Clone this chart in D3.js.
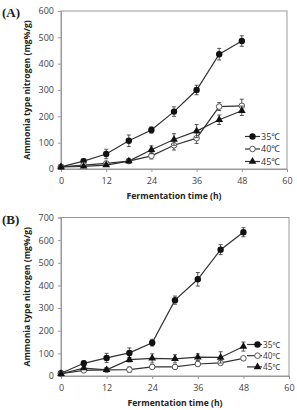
<!DOCTYPE html>
<html>
<head>
<meta charset="utf-8">
<script src="https://cdn.jsdelivr.net/npm/d3@7"></script>
<style>
  body { margin: 0; background: #fff; }
  text { font-family: "Open Sans", "Noto Sans", sans-serif; }
</style>
</head>
<body>
<div id="chart"></div>
<script>
// fermentation time (h)
const times = [0, 6, 12, 18, 24, 30, 36, 42, 48];
const xTicks = [0, 12, 24, 36, 48, 60];
const series = ["35℃", "40℃", "45℃"];

// panel A values and error bars
const a35 = [8, 30, 57, 107, 148, 218, 300, 436, 486];
const a35err = [4, 8, 18, 22, 12, 18, 18, 22, 20];
const a40 = [8, 15, 21, 30, 50, 90, 117, 237, 240];
const a40err = [3, 4, 6, 8, 12, 18, 20, 15, 25];
const a45 = [8, 10, 15, 30, 73, 112, 144, 187, 221];
const a45err = [3, 4, 5, 8, 15, 22, 25, 18, 18];
const aTicks = [0, 100, 200, 300, 400, 500, 600];

// panel B values and error bars
const b35 = [12, 56, 80, 102, 147, 335, 427, 558, 635];
const b35err = [4, 10, 20, 22, 15, 18, 30, 22, 20];
const b40 = [10, 25, 27, 28, 40, 40, 53, 58, 78];
const b40err = [3, 5, 5, 12, 8, 8, 10, 8, 8];
const b45 = [10, 35, 27, 72, 78, 76, 83, 82, 130];
const b45err = [3, 6, 5, 10, 20, 18, 15, 25, 20];
const bTicks = [0, 100, 200, 300, 400, 500, 600, 700];

const width = 297, height = 410;

let svg = d3.select("#chart")
  .append("svg")
  .attr("width", width)
  .attr("height", height);

const markers = ["filled", "open", "triangle"];

function drawMarker(g, type, x, y) {
  if (type === "filled") {
    g.append("circle").attr("cx", x).attr("cy", y).attr("r", 3.2).attr("fill", "#111");
  } else if (type === "open") {
    g.append("circle").attr("cx", x).attr("cy", y).attr("r", 2.8)
      .attr("fill", "#fff").attr("stroke", "#555").attr("stroke-width", 1);
  } else {
    g.append("path")
      .attr("d", d3.symbol().type(d3.symbolTriangle).size(26)())
      .attr("transform", `translate(${x},${y})`)
      .attr("fill", "#111");
  }
}

function panel(p) {
  let g = svg.append("g");

  let x = d3.scaleLinear().domain([0, 60]).range([p.left, p.right]);
  let y = d3.scaleLinear().domain([0, p.ymax]).range([p.bottom, p.top]);

  // plot frame
  g.append("rect")
    .attr("x", p.left).attr("y", p.top)
    .attr("width", p.right - p.left).attr("height", p.bottom - p.top)
    .attr("fill", "none").attr("stroke", "#999").attr("stroke-width", 1);

  // axes
  let yAxis = g.append("g")
    .attr("transform", `translate(${p.left},0)`)
    .call(d3.axisLeft(y).tickValues(p.ticks).tickSize(3).tickPadding(4));
  yAxis.selectAll("text").style("font-size", "9px").attr("fill", "#444");
  yAxis.selectAll("line, path").attr("stroke", "#999");

  let xAxis = g.append("g")
    .attr("transform", `translate(0,${p.bottom})`)
    .call(d3.axisBottom(x).tickValues(xTicks).tickSize(3).tickPadding(6));
  xAxis.selectAll("text").style("font-size", "9px").attr("fill", "#444");
  xAxis.selectAll("line, path").attr("stroke", "#999");

  // axis titles
  g.append("text")
    .attr("transform", `translate(${p.left - 31},${(p.top + p.bottom) / 2}) rotate(-90)`)
    .attr("text-anchor", "middle")
    .style("font-size", "8.6px")
    .style("font-weight", "bold")
    .attr("fill", "#222")
    .text("Ammonia type nitrogen (mg%/g)");

  g.append("text")
    .attr("x", (p.left + p.right) / 2)
    .attr("y", p.bottom + 30)
    .attr("text-anchor", "middle")
    .style("font-size", "8.6px")
    .style("font-weight", "bold")
    .attr("fill", "#222")
    .text("Fermentation time (h)");

  g.append("text")
    .attr("x", 2).attr("y", p.top + 6)
    .style("font-family", "'Liberation Serif', serif")
    .style("font-size", "13px")
    .style("font-weight", "bold")
    .attr("fill", "#222")
    .text(p.label);

  let line = d3.line().x((d, i) => x(times[i])).y(d => y(d));

  p.values.forEach((vals, k) => {
    let s = g.append("g");
    s.append("path")
      .attr("d", line(vals))
      .attr("fill", "none")
      .attr("stroke", "#333")
      .attr("stroke-width", 1.2);

    // error bars
    vals.forEach((v, i) => {
      let e = p.errs[k][i];
      let cx = x(times[i]);
      s.append("line").attr("x1", cx).attr("x2", cx)
        .attr("y1", y(v - e)).attr("y2", y(v + e))
        .attr("stroke", "#444").attr("stroke-width", 0.9);
      [v - e, v + e].forEach(w => {
        s.append("line").attr("x1", cx - 2).attr("x2", cx + 2)
          .attr("y1", y(w)).attr("y2", y(w))
          .attr("stroke", "#444").attr("stroke-width", 0.9);
      });
    });

    vals.forEach((v, i) => drawMarker(s, markers[k], x(times[i]), y(v)));
  });

  // legend
  series.forEach((name, k) => {
    let ly = p.legY + k * p.legGap;
    g.append("line")
      .attr("x1", p.legX).attr("x2", p.legX + 15)
      .attr("y1", ly).attr("y2", ly)
      .attr("stroke", "#333").attr("stroke-width", 1.2);
    drawMarker(g, markers[k], p.legX + p.legMark, ly);
    g.append("text")
      .attr("x", p.legX + 16).attr("y", ly + 3.2)
      .style("font-size", p.legFont)
      .attr("fill", "#333")
      .text(name);
  });
}

panel({
  label: "(A)", left: 61, right: 287, top: 11, bottom: 169, ymax: 600, ticks: aTicks,
  values: [a35, a40, a45], errs: [a35err, a40err, a45err],
  legX: 245, legY: 136.5, legGap: 12.5, legMark: 7.5, legFont: "9px"
});

panel({
  label: "(B)", left: 61, right: 289, top: 217.5, bottom: 376, ymax: 700, ticks: bTicks,
  values: [b35, b40, b45], errs: [b35err, b40err, b45err],
  legX: 247, legY: 344.5, legGap: 11.2, legMark: 10.5, legFont: "8.2px"
});
</script>
</body>
</html>
